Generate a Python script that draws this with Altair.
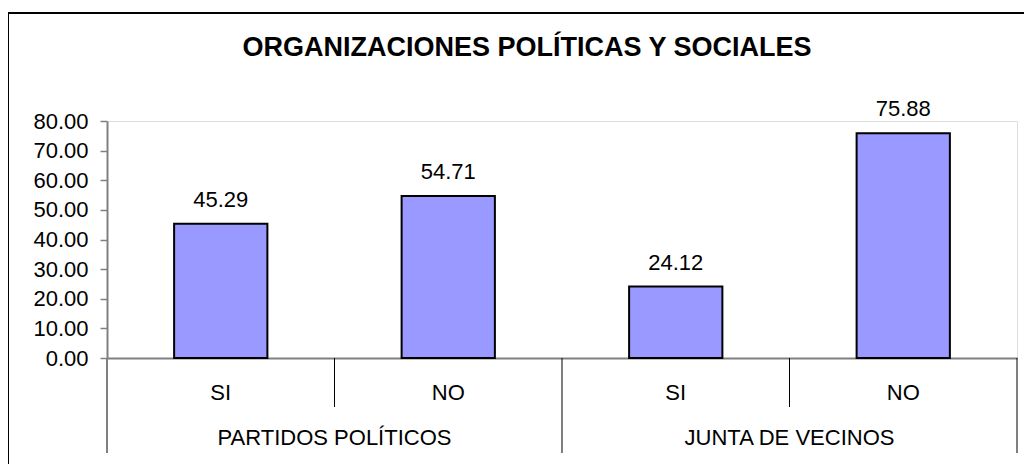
import altair as alt
import pandas as pd

# ---- data ----
groups = ["PARTIDOS POLÍTICOS", "PARTIDOS POLÍTICOS", "JUNTA DE VECINOS", "JUNTA DE VECINOS"]
answers = ["SI", "NO", "SI", "NO"]
values = [45.29, 54.71, 24.12, 75.88]
group_names = ["PARTIDOS POLÍTICOS", "JUNTA DE VECINOS"]
y_ticks = [0, 10, 20, 30, 40, 50, 60, 70, 80]
title_text = "ORGANIZACIONES POLÍTICAS Y SOCIALES"

FONT = "Liberation Sans"
W, H = 910, 237
HALF = 0.205  # half bar width in category units

bars = pd.DataFrame({"group": groups, "answer": answers, "value": values})
bars["pos"] = [i + 0.5 for i in range(len(bars))]
bars["lo"] = bars["pos"] - HALF
bars["hi"] = bars["pos"] + HALF

grp = pd.DataFrame({"group": group_names})
grp["pos"] = [2 * i + 1 for i in range(len(grp))]

bounds = pd.DataFrame({"b": list(range(len(bars) + 1))})
bounds["kind"] = ["axis" if b == 0 else ("long" if b % 2 == 0 else "short") for b in bounds["b"]]

xscale = alt.Scale(domain=[0, len(bars)], nice=False, zero=False)
yscale = alt.Scale(domain=[0, 80], nice=False)

XAXIS = alt.Axis(labels=False, ticks=False, grid=False, title=None,
                 domainColor="#808080", domainWidth=2)
YAXIS = alt.Axis(values=y_ticks, format=".2f", grid=False, title=None,
                 labelFont=FONT, labelFontSize=22, labelColor="black",
                 labelOverlap=False, labelBound=False,
                 domainColor="#808080", domainWidth=2,
                 tickColor="#808080", tickWidth=1.5, tickSize=7,
                 labelPadding=12)

base = alt.Chart(bars)

bar_layer = base.mark_rect(fill="#9999FF", stroke="black", strokeWidth=2).encode(
    x=alt.X("lo:Q", scale=xscale, axis=XAXIS),
    x2="hi:Q",
    y=alt.Y("value:Q", scale=yscale, axis=YAXIS),
    y2=alt.Y2(datum=0),
)

value_labels = base.mark_text(font=FONT, fontSize=22, color="black",
                              baseline="alphabetic", dy=-17).encode(
    x=alt.X("pos:Q", scale=xscale, axis=XAXIS),
    y=alt.Y("value:Q", scale=yscale, axis=YAXIS),
    text=alt.Text("value:Q", format=".2f"),
)

answer_labels = base.mark_text(font=FONT, fontSize=22, color="black",
                               baseline="middle").encode(
    x=alt.X("pos:Q", scale=xscale, axis=XAXIS),
    y=alt.value(H + 35),
    text="answer:N",
)

group_labels = alt.Chart(grp).mark_text(font=FONT, fontSize=22, color="black",
                                        baseline="middle").encode(
    x=alt.X("pos:Q", scale=xscale, axis=XAXIS),
    y=alt.value(H + 80),
    text="group:N",
)

bchart = alt.Chart(bounds)
axis_ext = bchart.transform_filter(alt.datum.kind == "axis").mark_rule(
    color="#808080", strokeWidth=2).encode(
    x=alt.X("b:Q", scale=xscale, axis=XAXIS), y=alt.value(H), y2=alt.value(H + 95))
short_sep = bchart.transform_filter(alt.datum.kind == "short").mark_rule(
    color="black", strokeWidth=1).encode(
    x=alt.X("b:Q", scale=xscale, axis=XAXIS), y=alt.value(H), y2=alt.value(H + 49))
long_sep = bchart.transform_filter(alt.datum.kind == "long").mark_rule(
    color="black", strokeWidth=1).encode(
    x=alt.X("b:Q", scale=xscale, axis=XAXIS), y=alt.value(H), y2=alt.value(H + 95))

frame = alt.Chart(pd.DataFrame({"f": [0]})).mark_rect(
    filled=False, stroke="black", strokeWidth=2).encode(
    x=alt.value(-99), x2=alt.value(W + 40), y=alt.value(-108), y2=alt.value(H + 140))

title_mark = alt.Chart(pd.DataFrame({"t": [title_text]})).mark_text(
    font=FONT, fontSize=27, fontWeight="bold", color="black",
    baseline="alphabetic", align="center").encode(
    x=alt.value(W / 2 - 35), y=alt.value(-65), text="t:N")

chart = alt.layer(
    frame, axis_ext, short_sep, long_sep, bar_layer, value_labels,
    answer_labels, group_labels, title_mark
).properties(
    width=W, height=H,
    padding={"left": 99, "top": 113, "right": 7, "bottom": 106},
    autosize=alt.AutoSizeParams(type="none"),
).configure_view(strokeWidth=0, stroke="transparent").configure(background="white")

chart.save("out.html", embed_options={"renderer": "svg", "actions": False})
